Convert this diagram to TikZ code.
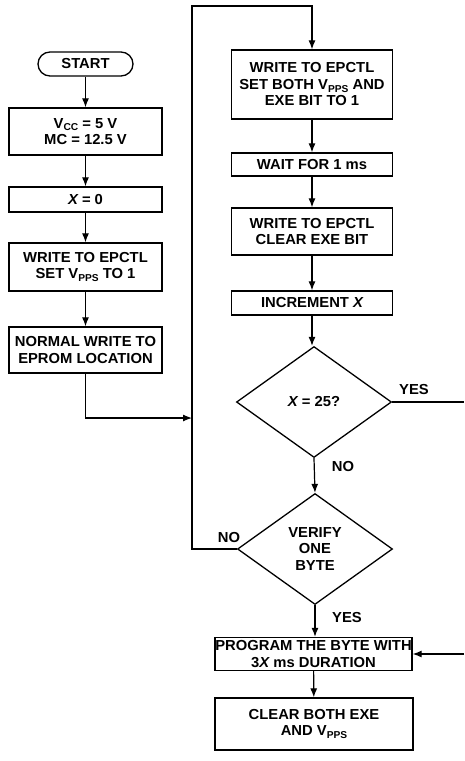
\documentclass[tikz,border=0pt]{standalone}
\usepackage{fontspec}
\setmainfont{Liberation Sans}[FakeStretch=1.02]
\usetikzlibrary{shapes.geometric,arrows.meta}
\newcommand{\lowsub}[1]{\raisebox{-0.35ex}{\fontsize{10}{10}\selectfont #1}}
\begin{document}
\begin{tikzpicture}[x=1pt,y=-1pt,
  every node/.style={font=\fontsize{14.5}{16.5}\selectfont\bfseries},
  box/.style={draw, line width=1.3pt, inner sep=0pt, align=center},
  lbox/.style={box, minimum width=153pt},
  rbox/.style={box, minimum width=161pt},
  dia/.style={draw, diamond, line width=1.3pt, inner sep=0pt, align=center, minimum width=155pt, minimum height=111pt},
  lbl/.style={inner sep=0pt},
  conn/.style={line width=1.2pt, -{Latex[length=9pt,width=7pt]}},
  plain/.style={line width=1.2pt}]
\useasboundingbox (0,0) rectangle (465,761);
% left column
\node[box, rounded corners=12pt, minimum width=95pt, minimum height=24pt] (start) at (85.5,64) {START};
\node[lbox, minimum height=47pt] (vcc) at (85.5,131.5) {V\lowsub{CC} = 5 V\\MC = 12.5 V};
\node[lbox, minimum height=25pt] (x0) at (85.5,199.5) {\itshape X\upshape{} = 0};
\node[lbox, minimum height=48pt] (wr1) at (85.5,267) {WRITE TO EPCTL\\SET V\lowsub{PPS} TO 1};
\node[lbox, minimum height=46pt] (norm) at (85.5,350) {NORMAL WRITE TO\\EPROM LOCATION};
% right column
\node[rbox, minimum height=69pt] (setb) at (312,84.5) {WRITE TO EPCTL\\SET BOTH V\lowsub{PPS} AND\\EXE BIT TO 1};
\node[rbox, minimum height=23pt] (wait) at (312,164.5) {WAIT FOR 1 ms};
\node[rbox, minimum height=47pt] (clex) at (312,231.5) {WRITE TO EPCTL\\CLEAR EXE BIT};
\node[rbox, minimum height=24pt] (incr) at (312,303) {INCREMENT \itshape X};
\node[dia] (x25) at (314,402) {\itshape X\upshape{} = 25?};
\node[dia] (ver) at (315,549) {VERIFY\\ONE\\BYTE};
\node[box, minimum width=197pt, minimum height=33pt] (prog) at (313.5,654) {PROGRAM THE BYTE WITH\\3\itshape X\upshape{} ms DURATION};
\node[box, minimum width=198pt, minimum height=52pt] (clb) at (314,724) {CLEAR BOTH EXE\\AND V\lowsub{PPS}};
% labels
\node[lbl] at (414,390) {YES};
\node[lbl] at (343,467) {NO};
\node[lbl] at (229,538) {NO};
\node[lbl] at (347,618) {YES};
% coordinates
\coordinate (loopT) at (192,6);
\coordinate (merge) at (192,418);
\coordinate (yesR) at (464,402);
\coordinate (inR) at (464,654);
% connectors
\draw[conn] (start) -- (vcc);
\draw[conn] (vcc) -- (x0);
\draw[conn] (x0) -- (wr1);
\draw[conn] (wr1) -- (norm);
\draw[conn] (norm.south) |- (merge);
\draw[conn] (ver.west) -| (loopT) -| (setb.north);
\draw[conn] (setb) -- (wait);
\draw[conn] (wait) -- (clex);
\draw[conn] (clex) -- (incr);
\draw[conn] (incr.south) -- (incr.south |- x25.north);
\draw[plain] (x25.east) -- (yesR);
\draw[conn] (x25.south) -- (ver.north);
\draw[conn] (ver.south) -- (ver.south |- prog.north);
\draw[conn] (inR) -- (prog.east);
\draw[conn] (prog) -- (clb);
\end{tikzpicture}
\end{document}
